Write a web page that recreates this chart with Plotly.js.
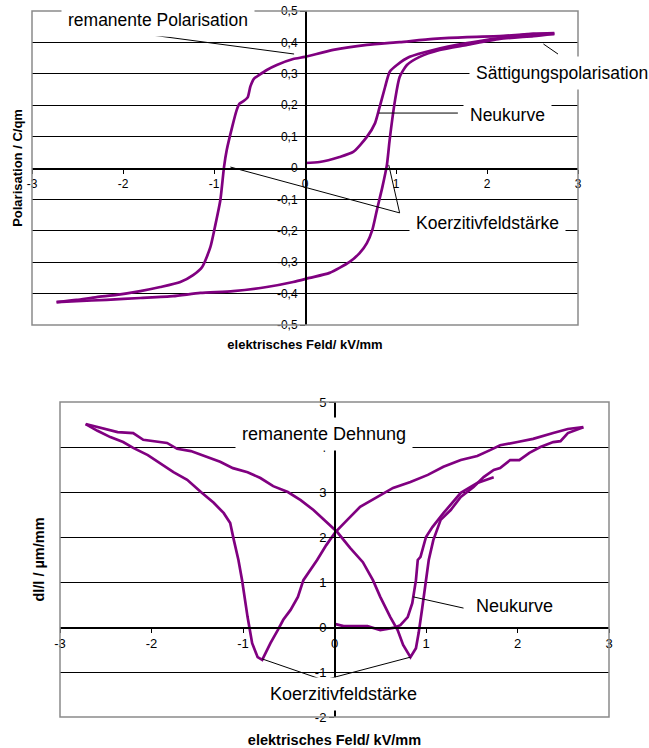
<!DOCTYPE html>
<html>
<head>
<meta charset="utf-8">
<script src="https://cdn.plot.ly/plotly-3.0.1.min.js"></script>
<style>html,body{margin:0;padding:0;background:#fff;}#chart{width:649px;height:748px;}</style>
</head>
<body>
<div id="chart"></div>
<script>
// ---------- Data: polarisation hysteresis (top) ----------
const polDescX = [2.74, 2.51, 2.14, 1.78, 1.41, 1.04, 0.68, 0.31, 0.0, -0.13, -0.31, -0.42, -0.52, -0.56, -0.60, -0.63, -0.68, -0.72, -0.75, -0.80, -0.86, -0.89, -0.93, -0.99, -1.04, -1.13, -1.23, -1.37, -1.59, -1.81, -2.07, -2.29, -2.51, -2.73];
const polDescY = [0.427, 0.427, 0.420, 0.417, 0.411, 0.401, 0.392, 0.376, 0.354, 0.347, 0.328, 0.312, 0.293, 0.285, 0.260, 0.225, 0.212, 0.205, 0.185, 0.131, 0.057, 0.003, -0.102, -0.188, -0.252, -0.315, -0.341, -0.363, -0.379, -0.392, -0.404, -0.411, -0.420, -0.427];
const polAscX = [-2.73, -2.51, -2.18, -1.81, -1.45, -1.15, -0.79, -0.42, -0.13, 0.05, 0.27, 0.49, 0.60, 0.68, 0.74, 0.79, 0.85, 0.90, 0.93, 0.99, 1.04, 1.12, 1.26, 1.48, 1.78, 2.14, 2.51, 2.74];
const polAscY = [-0.427, -0.424, -0.420, -0.414, -0.408, -0.398, -0.392, -0.379, -0.363, -0.350, -0.334, -0.299, -0.271, -0.239, -0.197, -0.134, -0.061, 0.010, 0.089, 0.217, 0.290, 0.328, 0.354, 0.376, 0.392, 0.411, 0.420, 0.427];
const polVirginX = [0, 0.16, 0.38, 0.53, 0.68, 0.77, 0.82, 0.88, 0.93, 1.01, 1.15, 1.41, 1.78, 2.14, 2.51, 2.74];
const polVirginY = [0.016, 0.019, 0.035, 0.051, 0.099, 0.143, 0.194, 0.258, 0.306, 0.328, 0.354, 0.376, 0.398, 0.414, 0.427, 0.430];

// ---------- Data: strain butterfly (bottom) ----------
const strainAX = [2.72, 2.55, 2.39, 2.25, 2.17, 2.00, 1.81, 1.70, 1.56, 1.38, 1.19, 1.02, 0.83, 0.64, 0.47, 0.28, 0.14, 0.01, -0.09, -0.19, -0.34, -0.40, -0.48, -0.56, -0.62, -0.70, -0.79, -0.84, -0.90, -0.95, -1.01, -1.05, -1.10, -1.14, -1.21, -1.32, -1.46, -1.61, -1.76, -1.90, -2.04, -2.20, -2.31, -2.45, -2.59, -2.72];
const strainAY = [4.44, 4.40, 4.31, 4.22, 4.18, 4.11, 4.04, 3.93, 3.80, 3.71, 3.56, 3.38, 3.22, 3.09, 2.89, 2.67, 2.38, 2.11, 1.82, 1.49, 1.04, 0.67, 0.38, 0.16, -0.07, -0.36, -0.73, -0.67, -0.36, 0.22, 1.04, 1.49, 1.93, 2.31, 2.53, 2.76, 3.00, 3.27, 3.44, 3.64, 3.82, 3.98, 4.11, 4.22, 4.36, 4.51];
const strainBX = [-2.72, -2.56, -2.37, -2.20, -2.09, -1.83, -1.72, -1.57, -1.39, -1.25, -1.11, -0.95, -0.81, -0.67, -0.51, -0.37, -0.23, -0.08, 0.03, 0.17, 0.31, 0.42, 0.50, 0.61, 0.69, 0.75, 0.83, 0.89, 0.92, 0.96, 1.00, 1.03, 1.08, 1.16, 1.27, 1.38, 1.52, 1.63, 1.74, 1.81, 1.92, 2.02, 2.13, 2.25, 2.39, 2.47, 2.55, 2.66, 2.72];
const strainBY = [4.51, 4.42, 4.33, 4.31, 4.16, 4.09, 3.96, 3.91, 3.78, 3.67, 3.53, 3.44, 3.31, 3.13, 3.00, 2.82, 2.60, 2.33, 2.11, 1.76, 1.44, 1.04, 0.67, 0.22, -0.07, -0.40, -0.67, -0.47, -0.13, 0.44, 1.11, 1.49, 1.93, 2.38, 2.60, 2.89, 3.11, 3.33, 3.49, 3.53, 3.71, 3.71, 3.87, 4.00, 4.11, 4.13, 4.31, 4.40, 4.44];
const strainVirginX = [0, 0.10, 0.36, 0.43, 0.50, 0.64, 0.72, 0.80, 0.85, 0.89, 0.91, 0.94, 1.00, 1.07, 1.19, 1.38, 1.56, 1.74];
const strainVirginY = [0.07, 0.02, 0.02, -0.02, -0.07, -0.02, 0.04, 0.22, 0.53, 1.04, 1.49, 1.56, 2.00, 2.22, 2.53, 2.98, 3.20, 3.33];

// ---------- Tick labels ----------
const fieldTickVals = [-3, -2, -1, 0, 1, 2, 3];
const fieldTickText = ['-3', '-2', '-1', '0', '1', '2', '3'];
const polTickVals = [-0.5, -0.4, -0.3, -0.2, -0.1, 0, 0.1, 0.2, 0.3, 0.4, 0.5];
const polTickText = ['-0,5', '-0,4', '-0,3', '-0,2', '-0,1', '0', '0,1', '0,2', '0,3', '0,4', '0,5'];
const strainTickVals = [-2, -1, 0, 1, 2, 3, 4, 5];
const strainTickText = ['-2', '-1', '0', '1', '2', '3', '4', '5'];

// ---------- Texts ----------
const xTitle = 'elektrisches Feld/ kV/mm';
const polTitle = 'Polarisation / C/qm';
const strainTitle = 'dl/l / µm/mm';
const polLabels = ['remanente Polarisation', 'Sättigungspolarisation', 'Neukurve', 'Koerzitivfeldstärke'];
const strainLabels = ['remanente Dehnung', 'Neukurve', 'Koerzitivfeldstärke'];

const W = 649, H = 748;
const FONT = 'Liberation Sans, Arial, sans-serif';
const PURPLE = '#800080';

function curve(x, y, xa, ya, shape) {
  return {x: x, y: y, xaxis: xa, yaxis: ya, type: 'scatter', mode: 'lines',
    line: {color: PURPLE, width: 2.7, shape: shape, smoothing: 0.6}, hoverinfo: 'skip', showlegend: false};
}

const traces = [
  curve(polDescX, polDescY, 'x', 'y', 'spline'),
  curve(polAscX, polAscY, 'x', 'y', 'spline'),
  curve(polVirginX, polVirginY, 'x', 'y', 'spline'),
  curve(strainAX, strainAY, 'x2', 'y2', 'linear'),
  curve(strainBX, strainBY, 'x2', 'y2', 'linear'),
  curve(strainVirginX, strainVirginY, 'x2', 'y2', 'linear')
];

const baseX = {range: [-3, 3], anchor: 'free', showgrid: false, zeroline: false, showline: true,
  linecolor: '#000', linewidth: 1.5, ticks: 'outside', ticklen: 4, tickcolor: '#000',
  tickvals: fieldTickVals, ticktext: fieldTickText, fixedrange: true};

const layout = {
  width: W, height: H,
  margin: {l: 0, r: 0, t: 0, b: 0},
  paper_bgcolor: '#fff', plot_bgcolor: 'rgba(0,0,0,0)',
  font: {family: FONT, color: '#000'},
  showlegend: false,
  xaxis: Object.assign({}, baseX, {
    domain: [32 / W, 578 / W], position: 1 - 168 / H,
    tickfont: {size: 12, family: FONT},
    title: {text: xTitle, font: {size: 13, family: FONT, weight: 'bold'}, standoff: 150}
  }),
  yaxis: {
    domain: [1 - 325 / H, 1 - 11 / H], range: [-0.5, 0.5], anchor: 'free', position: 305 / W,
    showgrid: true, gridcolor: '#000', gridwidth: 1, zeroline: false, showline: true,
    linecolor: '#000', linewidth: 1.5, ticks: 'outside', ticklen: 5, tickcolor: '#000',
    tickvals: polTickVals, ticktext: polTickText, tickfont: {size: 12, family: FONT}, fixedrange: true,
    title: {text: polTitle, font: {size: 13, family: FONT, weight: 'bold'}, standoff: 250}
  },
  xaxis2: Object.assign({}, baseX, {
    domain: [60 / W, 609 / W], position: 1 - 627 / H,
    tickfont: {size: 13, family: FONT},
    title: {text: xTitle, font: {size: 14.5, family: FONT, weight: 'bold'}, standoff: 85}
  }),
  yaxis2: {
    domain: [1 - 717 / H, 1 - 402 / H], range: [-2, 5], anchor: 'free', position: 334 / W,
    showgrid: true, gridcolor: '#000', gridwidth: 1, zeroline: false, showline: true,
    linecolor: '#000', linewidth: 1.5, ticks: 'outside', ticklen: 5, tickcolor: '#000',
    tickvals: strainTickVals, ticktext: strainTickText, tickfont: {size: 13, family: FONT}, fixedrange: true,
    title: {text: strainTitle, font: {size: 14.5, family: FONT, weight: 'bold'}, standoff: 265}
  },
  shapes: [
    {type: 'rect', xref: 'x domain', yref: 'y domain', x0: 0, x1: 1, y0: 0, y1: 1, line: {color: '#8a8a8a', width: 1.5}, layer: 'above'},
    {type: 'rect', xref: 'x2 domain', yref: 'y2 domain', x0: 0, x1: 1, y0: 0, y1: 1, line: {color: '#8a8a8a', width: 1.5}, layer: 'above'},
    // leader lines top
    {type: 'line', xref: 'x', yref: 'y', x0: -1.78, y0: 0.427, x1: -0.12, y1: 0.363, line: {color: '#000', width: 1}, layer: 'above'},
    {type: 'line', xref: 'x', yref: 'y', x0: 2.62, y0: 0.395, x1: 2.78, y1: 0.363, line: {color: '#000', width: 1}, layer: 'above'},
    {type: 'line', xref: 'x', yref: 'y', x0: 0.81, y0: 0.175, x1: 1.68, y1: 0.175, line: {color: '#000', width: 1}, layer: 'above'},
    {type: 'line', xref: 'x', yref: 'y', x0: -0.82, y0: 0.003, x1: 1.04, y1: -0.143, line: {color: '#000', width: 1}, layer: 'above'},
    {type: 'line', xref: 'x', yref: 'y', x0: 0.92, y0: 0.010, x1: 1.04, y1: -0.143, line: {color: '#000', width: 1}, layer: 'above'},
    // leader lines bottom
    {type: 'line', xref: 'x2', yref: 'y2', x0: 0.86, y0: 0.67, x1: 1.41, y1: 0.42, line: {color: '#000', width: 1}, layer: 'above'},
    {type: 'line', xref: 'x2', yref: 'y2', x0: -0.79, y0: -0.71, x1: -0.12, y1: -1.18, line: {color: '#000', width: 1}, layer: 'above'},
    {type: 'line', xref: 'x2', yref: 'y2', x0: -0.12, y0: -1.18, x1: 0.83, y1: -0.67, line: {color: '#000', width: 1}, layer: 'above'}
  ],
  annotations: [
    {text: polLabels[0], xref: 'x', yref: 'y', x: -1.62, y: 0.471, showarrow: false, bgcolor: '#fff', borderpad: 6, font: {size: 17.5, family: FONT}},
    {text: polLabels[1], xref: 'x', yref: 'y', x: 2.82, y: 0.303, showarrow: false, bgcolor: '#fff', borderpad: 6, font: {size: 17.5, family: FONT}},
    {text: polLabels[2], xref: 'x', yref: 'y', x: 2.22, y: 0.169, showarrow: false, bgcolor: '#fff', borderpad: 6, font: {size: 17.5, family: FONT}},
    {text: polLabels[3], xref: 'x', yref: 'y', x: 2.01, y: -0.175, showarrow: false, bgcolor: '#fff', borderpad: 6, font: {size: 17.5, family: FONT}},
    {text: strainLabels[0], xref: 'x2', yref: 'y2', x: -0.11, y: 4.29, showarrow: false, bgcolor: '#fff', borderpad: 6, font: {size: 18, family: FONT}},
    {text: strainLabels[1], xref: 'x2', yref: 'y2', x: 1.97, y: 0.47, showarrow: false, bgcolor: '#fff', borderpad: 6, font: {size: 18, family: FONT}},
    {text: strainLabels[2], xref: 'x2', yref: 'y2', x: 0.10, y: -1.49, showarrow: false, bgcolor: '#fff', borderpad: 6, font: {size: 18, family: FONT}}
  ]
};

Plotly.newPlot('chart', traces, layout, {staticPlot: true, displayModeBar: false});
</script>
</body>
</html>
